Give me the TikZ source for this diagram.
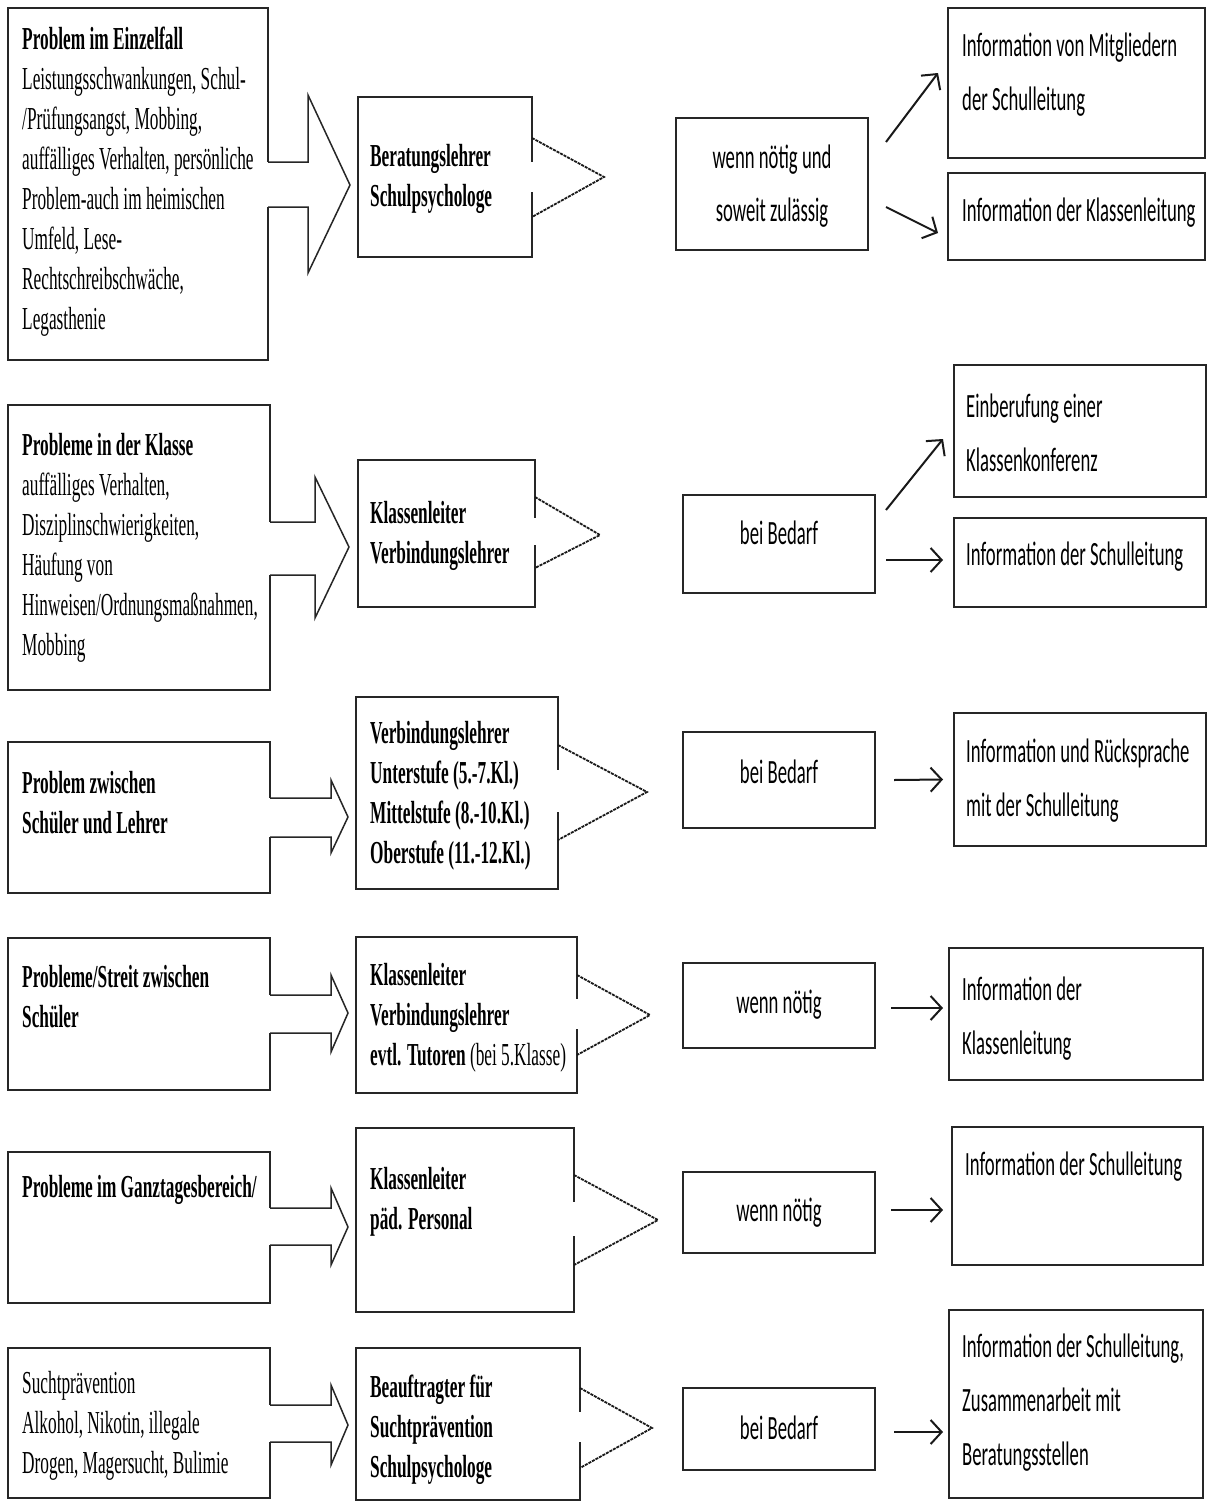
\documentclass[tikz,border=0pt]{standalone}
\usepackage{fontspec}
\setmainfont[FakeStretch=0.54]{Liberation Serif}
\newfontfamily\calib[FakeStretch=0.55]{Carlito}
\usetikzlibrary{arrows.meta,calc}

\begin{document}
\begin{tikzpicture}[x=1pt,y=-1pt]
\tikzstyle{box}=[draw=black!85,line width=2pt,inner sep=0pt,outer sep=0pt,anchor=north west];
\tikzstyle{srf}=[font=\fontsize{32}{40}\selectfont,align=left,inner sep=0pt,anchor=west];
\tikzstyle{cal}=[font=\calib\fontsize{34}{54}\selectfont,align=left,inner sep=0pt,anchor=west];
\tikzstyle{calm}=[font=\calib\fontsize{34}{53}\selectfont,align=center,inner sep=0pt];
\tikzstyle{blk}=[draw=black!85,fill=white,line width=1.5pt];
\tikzstyle{chev}=[draw=black!90,line width=1.8pt,dash pattern=on 3pt off 1pt];
\tikzstyle{gap}=[draw=white,line width=4pt];
\tikzstyle{arr}=[draw=black!90,line width=2pt,-{Straight Barb[length=11pt,width=24pt]}];

\path[use as bounding box,fill=white] (0,0) rectangle (1208,1502);

\node [box,minimum width=260pt,minimum height=352pt] (a1) at (8,8) {};
\node [box,minimum width=174pt,minimum height=160pt] (b1) at (358,97) {};
\node [box,minimum width=192pt,minimum height=132pt] (c1) at (676,118) {};
\node [box,minimum width=257pt,minimum height=150pt] (d1a) at (948,8) {};
\node [box,minimum width=257pt,minimum height=87pt] (d1b) at (948,173) {};

\node [srf] (a1t) at (22,182) {\textbf{Problem im Einzelfall}\\Leistungsschwankungen, Schul-\\/Prüfungsangst, Mobbing,\\auffälliges Verhalten, persönliche\\Problem-auch im heimischen\\Umfeld, Lese-\\Rechtschreibschwäche,\\Legasthenie};
\node [srf] (b1t) at (370,179) {\textbf{Beratungslehrer}\\\textbf{Schulpsychologe}};
\node [calm] (c1t) at (772,186) {wenn nötig und\\soweit zulässig};
\node [cal] (d1at) at (962,75) {Information von Mitgliedern\\der Schulleitung};
\node [cal] (d1bt) at (962,213) {Information der Klassenleitung};

\draw [gap] (a1.east |- 0,162) -- (a1.east |- 0,207);
\draw [blk] (a1.east |- 0,162) -- (308,162) -- (308,95) -- ($(b1.west |- 0,185)+(-8,0)$) -- (308,273) -- (308,207) -- (a1.east |- 0,207);
\draw [gap] (b1.east |- 0,162) -- (b1.east |- 0,192);
\draw [chev] (b1.east |- 0,138) -- (604,177) -- (b1.east |- 0,217);
\draw [arr] ($(c1.east)+(18,-42)$) -- ($(d1a.west)+(-10,-10)$);
\draw [arr] ($(c1.east)+(18,23)$) -- ($(d1b.west)+(-10,16.5)$);

\node [box,minimum width=262pt,minimum height=285pt] (a2) at (8,405) {};
\node [box,minimum width=177pt,minimum height=147pt] (b2) at (358,460) {};
\node [box,minimum width=192pt,minimum height=98pt] (c2) at (683,495) {};
\node [box,minimum width=252pt,minimum height=132pt] (d2a) at (954,365) {};
\node [box,minimum width=252pt,minimum height=89pt] (d2b) at (954,518) {};

\node [srf] (a2t) at (22,548) {\textbf{Probleme in der Klasse}\\auffälliges Verhalten,\\Disziplinschwierigkeiten,\\Häufung von\\Hinweisen/Ordnungsmaßnahmen,\\Mobbing};
\node [srf] (b2t) at (370,536) {\textbf{Klassenleiter}\\\textbf{Verbindungslehrer}};
\node [calm] (c2t) at (779,533) {bei Bedarf};
\node [cal] (d2at) at (966,433) {Einberufung einer\\Klassenkonferenz};
\node [cal] (d2bt) at (966,557) {Information der Schulleitung};

\draw [gap] (a2.east |- 0,522) -- (a2.east |- 0,575);
\draw [blk] (a2.east |- 0,522) -- (315,522) -- (315,477) -- ($(b2.west |- 0,547)+(-9,0)$) -- (315,618) -- (315,575) -- (a2.east |- 0,575);
\draw [gap] (b2.east |- 0,518) -- (b2.east |- 0,545);
\draw [chev] (b2.east |- 0,497) -- (600,535) -- (b2.east |- 0,568);
\draw [arr] ($(c2.east)+(11,-34)$) -- ($(d2a.west)+(-11,8)$);
\draw [arr] ($(c2.east)+(11,16)$) -- ($(d2b.west)+(-11,-2.5)$);

\node [box,minimum width=262pt,minimum height=151pt] (a3) at (8,742) {};
\node [box,minimum width=202pt,minimum height=192pt] (b3) at (356,697) {};
\node [box,minimum width=192pt,minimum height=96pt] (c3) at (683,732) {};
\node [box,minimum width=252pt,minimum height=133pt] (d3) at (954,713) {};

\node [srf] (a3t) at (22,803) {\textbf{Problem zwischen}\\\textbf{Schüler und Lehrer}};
\node [srf] (b3t) at (370,796) {\textbf{Verbindungslehrer}\\\textbf{Unterstufe (5.-7.Kl.)}\\\textbf{Mittelstufe (8.-10.Kl.)}\\\textbf{Oberstufe (11.-12.Kl.)}};
\node [calm] (c3t) at (779,772) {bei Bedarf};
\node [cal] (d3t) at (966,781) {Information und Rücksprache\\mit der Schulleitung};

\draw [gap] (a3.east |- 0,798) -- (a3.east |- 0,837);
\draw [blk] (a3.east |- 0,798) -- (331,798) -- (331,780) -- ($(b3.west |- 0,817)+(-8,0)$) -- (331,853) -- (331,837) -- (a3.east |- 0,837);
\draw [gap] (b3.east |- 0,770) -- (b3.east |- 0,812);
\draw [chev] (b3.east |- 0,745) -- (647,792) -- (b3.east |- 0,840);
\draw [arr] ($(c3.east)+(19,0)$) -- ($(d3.west)+(-11,0)$);

\node [box,minimum width=262pt,minimum height=152pt] (a4) at (8,938) {};
\node [box,minimum width=221pt,minimum height=156pt] (b4) at (356,937) {};
\node [box,minimum width=192pt,minimum height=85pt] (c4) at (683,963) {};
\node [box,minimum width=254pt,minimum height=132pt] (d4) at (949,948) {};

\node [srf] (a4t) at (22,997) {\textbf{Probleme/Streit zwischen}\\\textbf{Schüler}};
\node [srf] (b4t) at (370,1018) {\textbf{Klassenleiter}\\\textbf{Verbindungslehrer}\\\textbf{evtl. Tutoren} (bei 5.Klasse)};
\node [calm] (c4t) at (779,1005) {wenn nötig};
\node [cal] (d4t) at (962,1019) {Information der\\Klassenleitung};

\draw [gap] (a4.east |- 0,995) -- (a4.east |- 0,1033);
\draw [blk] (a4.east |- 0,995) -- (331,995) -- (331,975) -- ($(b4.west |- 0,1013)+(-8,0)$) -- (331,1052) -- (331,1033) -- (a4.east |- 0,1033);
\draw [gap] (b4.east |- 0,999) -- (b4.east |- 0,1029);
\draw [chev] (b4.east |- 0,975) -- (650,1015) -- (b4.east |- 0,1055);
\draw [arr] ($(c4.east)+(16,2.5)$) -- ($(d4.west)+(-6,-6)$);

\node [box,minimum width=262pt,minimum height=151pt] (a5) at (8,1152) {};
\node [box,minimum width=218pt,minimum height=184pt] (b5) at (356,1128) {};
\node [box,minimum width=192pt,minimum height=81pt] (c5) at (683,1172) {};
\node [box,minimum width=251pt,minimum height=138pt] (d5) at (952,1127) {};

\node [srf] (a5t) at (22,1190) {\textbf{Probleme im Ganztagesbereich/}};
\node [srf] (b5t) at (370,1202) {\textbf{Klassenleiter}\\\textbf{päd. Personal}};
\node [calm] (c5t) at (779,1213) {wenn nötig};
\node [cal] (d5t) at (965,1167) {Information der Schulleitung};

\draw [gap] (a5.east |- 0,1208) -- (a5.east |- 0,1245);
\draw [blk] (a5.east |- 0,1208) -- (331,1208) -- (331,1188) -- ($(b5.west |- 0,1227)+(-8,0)$) -- (331,1265) -- (331,1245) -- (a5.east |- 0,1245);
\draw [gap] (b5.east |- 0,1202) -- (b5.east |- 0,1236);
\draw [chev] (b5.east |- 0,1175) -- (658,1220) -- (b5.east |- 0,1265);
\draw [arr] ($(c5.east)+(16,-2.5)$) -- ($(d5.west)+(-9,14)$);

\node [box,minimum width=262pt,minimum height=150pt] (a6) at (8,1348) {};
\node [box,minimum width=224pt,minimum height=152pt] (b6) at (356,1348) {};
\node [box,minimum width=192pt,minimum height=82pt] (c6) at (683,1388) {};
\node [box,minimum width=254pt,minimum height=188pt] (d6) at (949,1310) {};

\node [srf] (a6t) at (22,1426) {Suchtprävention\\Alkohol, Nikotin, illegale\\Drogen, Magersucht, Bulimie};
\node [srf] (b6t) at (370,1430) {\textbf{Beauftragter für}\\\textbf{Suchtprävention}\\\textbf{Schulpsychologe}};
\node [calm] (c6t) at (779,1428) {bei Bedarf};
\node [cal] (d6t) at (962,1403) {Information der Schulleitung,\\Zusammenarbeit mit\\Beratungsstellen};

\draw [gap] (a6.east |- 0,1405) -- (a6.east |- 0,1442);
\draw [blk] (a6.east |- 0,1405) -- (331,1405) -- (331,1385) -- ($(b6.west |- 0,1425)+(-8,0)$) -- (331,1465) -- (331,1442) -- (a6.east |- 0,1442);
\draw [gap] (b6.east |- 0,1412) -- (b6.east |- 0,1442);
\draw [chev] (b6.east |- 0,1388) -- (652,1428) -- (b6.east |- 0,1468);
\draw [arr] ($(c6.east)+(19,3)$) -- ($(d6.west)+(-6,28)$);
\end{tikzpicture}
\end{document}
